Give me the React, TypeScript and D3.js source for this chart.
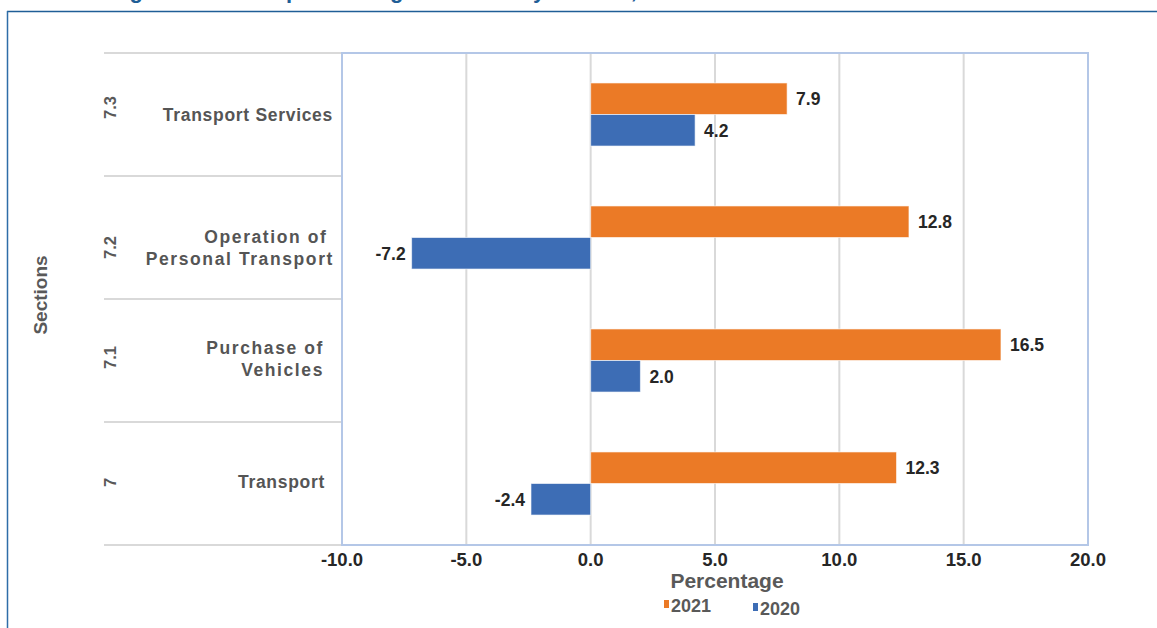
import React from "react";
import * as d3 from "d3";

// Section codes (top to bottom) and their display names
const sections = ["7.3", "7.2", "7.1", "7"];
const sectionNames: string[][] = [
  ["Transport Services"],
  ["Operation of ", "Personal Transport"],
  ["Purchase of", "Vehicles"],
  ["Transport"],
];
const series = ["2021", "2020"];
const values2021 = [7.9, 12.8, 16.5, 12.3];
const values2020 = [4.2, -7.2, 2.0, -2.4];
const xTicks = [-10, -5, 0, 5, 10, 15, 20];

const W = 1157;
const H = 628;
const COLORS: Record<string, string> = { "2021": "#EB7A26", "2020": "#3D6DB5" };
const SANS = "'Liberation Sans', Arial, Helvetica, sans-serif";

// per-section label tweaks: vertical nudge, name anchor, letter spacing
const nameShift = [0, 10, -2, -2];
const codeShift = [-7, 10, -3, -1];
const nameAnchor = [333, 334, 324, 325];
const nameSpacing = [1, 1.9, 1.9, 1];

// plain hyphen-minus for negative numbers
const fmt = d3.formatLocale({
  decimal: ".",
  thousands: ",",
  grouping: [3],
  currency: ["", ""],
  minus: "-",
}).format(".1f");

export default function App() {
  const x = d3.scaleLinear().domain([-10, 20]).range([342, 1088]);
  const y = d3.scaleBand<string>().domain(sections).range([53, 545]).padding(0);
  const inner = d3
    .scaleBand<string>()
    .domain(series)
    .range([0, y.bandwidth()])
    .paddingInner(0)
    .paddingOuter(0.95);

  const valuesBySeries: Record<string, number[]> = { "2021": values2021, "2020": values2020 };
  const [plotTop, plotBottom] = y.range();
  const bandEdges = [...sections.map((s) => y(s) as number), plotBottom];

  return (
    <svg
      width={W}
      height={H}
      viewBox={`0 0 ${W} ${H}`}
      style={{ position: "fixed", left: 0, top: 0, background: "#fff" }}
    >
      <rect x={0} y={0} width={W} height={H} fill="#fff" />

      {/* figure heading, mostly above the frame */}
      <text x={110} y={-2.5} fontFamily={SANS} fontWeight="bold" fontSize={22} fill="#1F5E96">
        Figure 5.3: Transport Change in Prices by Section, 2020 and 2021
      </text>

      {/* outer frame */}
      <line x1={7} x2={W} y1={11.5} y2={11.5} stroke="#1F5E96" strokeWidth={1.5} />
      <line x1={7.5} x2={7.5} y1={11} y2={H} stroke="#2E6DA8" strokeWidth={1.5} />

      {/* vertical gridlines */}
      {xTicks.map((t) => (
        <line
          key={`g${t}`}
          x1={x(t)}
          x2={x(t)}
          y1={plotTop}
          y2={plotBottom}
          stroke="#D9D9D9"
          strokeWidth={2}
        />
      ))}

      {/* category separators on the left */}
      {bandEdges.map((e, i) => (
        <line key={`b${i}`} x1={104} x2={x(-10)} y1={e} y2={e} stroke="#D9D9D9" strokeWidth={2} />
      ))}

      {/* bars */}
      {sections.map((s, i) =>
        series.map((k) => {
          const v = valuesBySeries[k][i];
          const y0 = (y(s) as number) + (inner(k) as number);
          const h = inner.bandwidth();
          const x0 = Math.min(x(0), x(v));
          const w = Math.abs(x(v) - x(0));
          return (
            <g key={`${s}-${k}`}>
              <rect
                x={x0}
                y={y0}
                width={w}
                height={h}
                fill={COLORS[k]}
                stroke="#fff"
                strokeOpacity={0.6}
                strokeWidth={1}
              />
              <text
                x={v >= 0 ? x(v) + 9 : x(v) - 6}
                y={y0 + h / 2}
                dy="0.36em"
                textAnchor={v >= 0 ? "start" : "end"}
                fontFamily={SANS}
                fontWeight="bold"
                fontSize={17.5}
                fill="#262626"
              >
                {fmt(v)}
              </text>
            </g>
          );
        })
      )}

      {/* plot border */}
      <rect
        x={x(-10)}
        y={plotTop}
        width={x(20) - x(-10)}
        height={plotBottom - plotTop}
        fill="none"
        stroke="#B4C7E7"
        strokeWidth={2}
      />

      {/* section codes and names */}
      {sections.map((s, i) => {
        const cy = (y(s) as number) + y.bandwidth() / 2;
        const lines = sectionNames[i];
        const lh = 22;
        return (
          <g key={`lab${s}`}>
            <text
              transform={`translate(${110},${cy + codeShift[i]}) rotate(-90)`}
              textAnchor="middle"
              dy="0.36em"
              fontFamily={SANS}
              fontWeight="bold"
              fontSize={16.5}
              fill="#595959"
            >
              {s}
            </text>
            {lines.map((ln, j) => (
              <text
                key={j}
                x={nameAnchor[i]}
                y={cy + nameShift[i] - ((lines.length - 1) * lh) / 2 + j * lh}
                dy="0.36em"
                textAnchor="end"
                fontFamily={SANS}
                fontWeight="bold"
                fontSize={17.5}
                letterSpacing={nameSpacing[i] - 0.3}
                fill="#555555"
                style={{ whiteSpace: "pre" }}
              >
                {ln}
              </text>
            ))}
          </g>
        );
      })}

      {/* axis title: Sections */}
      <text
        transform={`translate(${40},${295}) rotate(-90)`}
        textAnchor="middle"
        dy="0.36em"
        fontFamily={SANS}
        fontWeight="bold"
        fontSize={19}
        fill="#595959"
      >
        Sections
      </text>

      {/* x tick labels */}
      {xTicks.map((t) => (
        <text
          key={`t${t}`}
          x={x(t)}
          y={566}
          textAnchor="middle"
          fontFamily={SANS}
          fontWeight="bold"
          fontSize={18.5}
          fill="#262626"
        >
          {fmt(t)}
        </text>
      ))}

      {/* x axis title */}
      <text
        x={727}
        y={588}
        textAnchor="middle"
        fontFamily={SANS}
        fontWeight="bold"
        fontSize={21}
        fill="#595959"
      >
        Percentage
      </text>

      {/* legend */}
      {series.map((k, i) => {
        const lx = 664 + i * 89;
        const ly = 600 + i * 3;
        return (
          <g key={`leg${k}`}>
            <rect x={lx} y={ly} width={5} height={8} fill={COLORS[k]} />
            <text
              x={lx + 7}
              y={ly + 12}
              fontFamily={SANS}
              fontWeight="bold"
              fontSize={18}
              fill="#595959"
            >
              {k}
            </text>
          </g>
        );
      })}
    </svg>
  );
}
